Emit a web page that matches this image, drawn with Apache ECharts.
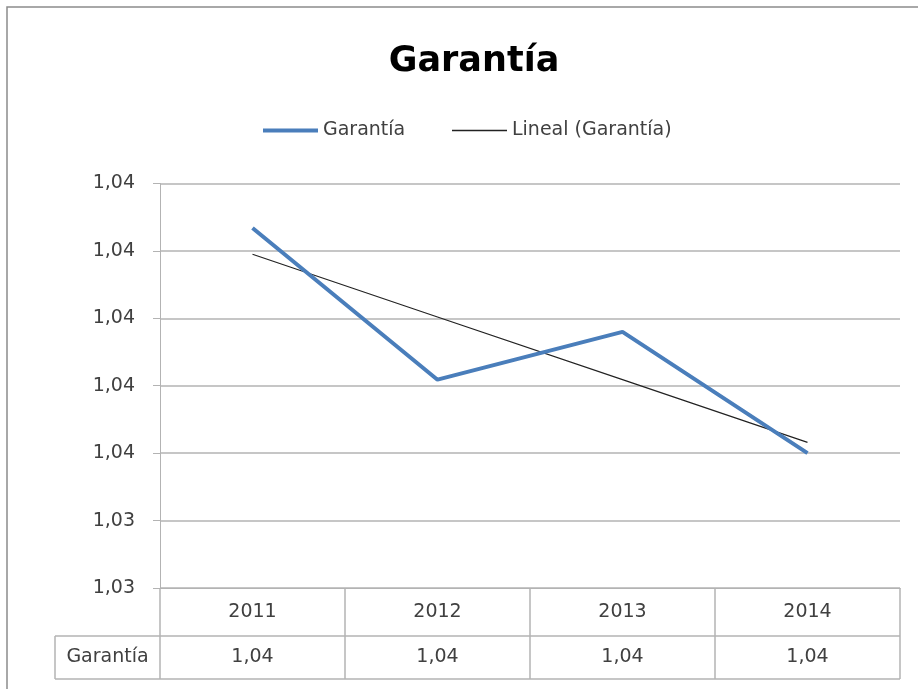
<!DOCTYPE html>
<html>
<head>
<meta charset="utf-8">
<title>Garantía</title>
<script src="https://cdn.jsdelivr.net/npm/echarts@6/dist/echarts.min.js"></script>
<style>
html, body { margin: 0; padding: 0; background: #fff; }
#chart { width: 918px; height: 689px; }
</style>
</head>
<body>
<div id="chart"></div>
<script>
// datos
var years = ['2011', '2012', '2013', '2014'];
var garantia = [1.03834, 1.03609, 1.03680, 1.03500];
var lineal = [1.03795, 1.03702, 1.03609, 1.03516];
var yLabels = ['1,03', '1,03', '1,04', '1,04', '1,04', '1,04', '1,04'];
var tablaValores = ['1,04', '1,04', '1,04', '1,04'];
var nombreSerie = 'Garantía';
var nombreTendencia = 'Lineal (Garantía)';

var fuente = 'DejaVu Sans';
var gris = '#404040';
var linea = '#b3b3b3';
var azul = '#4a7ebb';

var chartDom = document.getElementById('chart');
var myChart = echarts.init(chartDom);

var option = {
    animation: false,
    backgroundColor: '#fff',
    title: {
        text: 'Garantía',
        left: 469,
        top: 39,
        textAlign: 'center',
        textStyle: { fontFamily: fuente, fontSize: 35, fontWeight: 'bold', color: '#000' }
    },
    legend: [
        {
            left: 258,
            top: 116,
            icon: 'rect',
            itemWidth: 55,
            itemHeight: 4,
            textStyle: { fontFamily: fuente, fontSize: 19, color: gris },
            data: [nombreSerie]
        },
        {
            left: 447,
            top: 116,
            icon: 'rect',
            itemWidth: 55,
            itemHeight: 1.3,
            textStyle: { fontFamily: fuente, fontSize: 19, color: gris },
            data: [nombreTendencia]
        }
    ],
    grid: { left: 160, right: 18, top: 183.5, bottom: 101, containLabel: false },
    xAxis: {
        type: 'category',
        data: years,
        boundaryGap: true,
        axisLine: { lineStyle: { color: linea } },
        axisTick: { show: false },
        axisLabel: { fontFamily: fuente, fontSize: 19, color: gris, margin: 15 },
        splitLine: { show: false }
    },
    yAxis: {
        type: 'value',
        min: 1.033,
        max: 1.039,
        interval: 0.001,
        axisLine: { show: true, lineStyle: { color: linea } },
        axisTick: { show: true, length: 7, lineStyle: { color: linea } },
        axisLabel: {
            fontFamily: fuente, fontSize: 19, color: gris, margin: 25,
            formatter: function (v, i) { return yLabels[i]; }
        },
        splitLine: { lineStyle: { color: linea, width: 1.5 } }
    },
    series: [
        {
            name: nombreSerie,
            type: 'line',
            data: garantia,
            symbol: 'none',
            color: azul,
            lineStyle: { width: 4, color: azul },
            z: 3
        },
        {
            name: nombreTendencia,
            type: 'line',
            data: lineal,
            symbol: 'none',
            color: '#222',
            lineStyle: { width: 1.2, color: '#222' },
            z: 2
        }
    ]
};

option && myChart.setOption(option);

// tabla de datos debajo del eje, a partir de las escalas del grafico
var c0 = myChart.convertToPixel({ xAxisIndex: 0 }, years[0]);
var c1 = myChart.convertToPixel({ xAxisIndex: 0 }, years[1]);
var ancho = c1 - c0;
var izq = c0 - ancho / 2;
var yEje = myChart.convertToPixel({ yAxisIndex: 0 }, 1.033);
var fila1 = yEje + 48;
var fila2 = fila1 + 43;
var celdaIzq = 55;
var der = izq + ancho * years.length;

var g = [];
function hline(x1, x2, y) {
    g.push({ type: 'line', shape: { x1: x1, y1: y, x2: x2, y2: y }, style: { stroke: linea, lineWidth: 1.5 }, silent: true });
}
function vline(x, y1, y2) {
    g.push({ type: 'line', shape: { x1: x, y1: y1, x2: x, y2: y2 }, style: { stroke: linea, lineWidth: 1.5 }, silent: true });
}
hline(celdaIzq, der, fila1);
hline(celdaIzq, der, fila2);
vline(celdaIzq, fila1, fila2);
for (var i = 0; i <= years.length; i++) {
    vline(izq + ancho * i, yEje, fila2);
}
g.push({
    type: 'text', x: (celdaIzq + izq) / 2, y: (fila1 + fila2) / 2,
    style: { text: nombreSerie, fontFamily: fuente, fontSize: 19, fill: gris, align: 'center', verticalAlign: 'middle' }
});
for (var j = 0; j < tablaValores.length; j++) {
    var cx = myChart.convertToPixel({ xAxisIndex: 0 }, years[j]);
    g.push({
        type: 'text', x: cx, y: (fila1 + fila2) / 2,
        style: { text: tablaValores[j], fontFamily: fuente, fontSize: 19, fill: gris, align: 'center', verticalAlign: 'middle' }
    });
}
// marco exterior del grafico
g.push({ type: 'rect', shape: { x: 7, y: 7, width: 930, height: 700 }, style: { fill: 'none', stroke: '#8c8c8c', lineWidth: 1.5 }, silent: true });

myChart.setOption({ graphic: g });
</script>
</body>
</html>
